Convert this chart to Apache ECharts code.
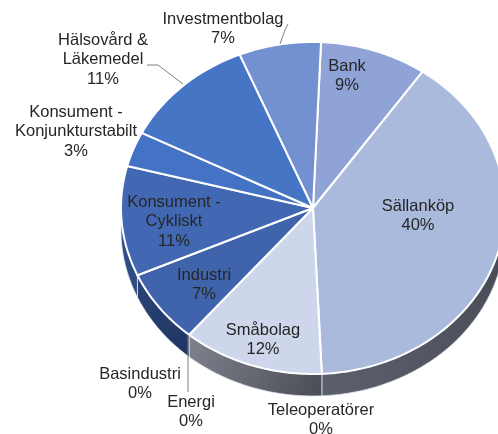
<!DOCTYPE html>
<html>
<head>
<meta charset="utf-8">
<style>html,body{margin:0;padding:0;background:#fff}#main{width:498px;height:434px}</style>
<script src="https://cdn.jsdelivr.net/npm/echarts@6/dist/echarts.min.js"></script>
</head>
<body>
<div id="main"></div>
<script>
// clockwise from just right of 12 o'clock
var categories = ['Bank', 'Sällanköp', 'Teleoperatörer', 'Småbolag', 'Energi', 'Basindustri', 'Industri',
  'Konsument -\nCykliskt', 'Konsument -\nKonjunkturstabilt', 'Hälsovård &\nLäkemedel', 'Investmentbolag'];
var values = [9.0, 39.6, 0, 11.9, 0, 0, 7.2, 10.7, 3.4, 11.3, 6.9];

var topColors = ['#8fa3d6', '#aabadd', '#aabadd', '#cdd6ea', '#cdd6ea', '#cdd6ea', '#3f64ab', '#4268b3', '#4472c4', '#4675c6', '#7391d1'];
var sideFrom = ['#50545f', '#5b5f6c', '#5b5f6c', '#7f828d', '#7f828d', '#7f828d', '#2a4478', '#33548f', '#33548f', '#33548f', '#33548f'];
var sideTo = ['#50545f', '#474a54', '#474a54', '#4b4d55', '#4b4d55', '#4b4d55', '#1f3461', '#2b4880', '#2b4880', '#2b4880', '#2b4880'];

// label centres, first line
var labelX = [347, 418, 321, 263, 191, 140, 204, 174, 76, 103, 223];
var labelY = [66, 206, 410, 330, 402, 374, 275, 202, 112, 40, 19];
var leaders = [
  [[280, 44], [285, 30], [288, 24]],
  [[183, 84], [158, 65], [147, 65]],
  [[188, 335], [188, 392]]
];

var cx = 313, cy = 208, rx = 192, ry = 166, depth = 22, startAngle = 2.4;

var total = values.reduce(function (a, b) { return a + b; }, 0);
var rows = [], acc = 0;
for (var i = 0; i < values.length; i++) {
  rows.push([i, values[i], acc]);
  acc += values[i];
}

function pt(t, dy) {
  var a = t * Math.PI / 180;
  return [cx + rx * Math.sin(a), cy - ry * Math.cos(a) + (dy || 0)];
}
function arc(from, to, dy) {
  var out = [];
  var n = Math.max(2, Math.ceil(Math.abs(to - from)));
  for (var k = 0; k <= n; k++) out.push(pt(from + (to - from) * k / n, dy));
  return out;
}
function angles(api) {
  var a0 = startAngle + api.value(2) / total * 360;
  return [a0, a0 + api.value(1) / total * 360];
}

function renderSide(params, api) {
  var idx = api.value(0), a = angles(api);
  var from = Math.max(a[0], 90), to = Math.min(a[1], 270);
  if (api.value(1) === 0 || to <= from) return null;
  var p0 = pt(to), p1 = pt(from);
  return {
    type: 'polygon',
    shape: { points: arc(from, to, 0).concat(arc(to, from, depth)) },
    style: {
      fill: {
        type: 'linear', global: true, x: p0[0], y: p0[1], x2: p1[0], y2: p1[1] + depth,
        colorStops: [{ offset: 0, color: sideFrom[idx] }, { offset: 1, color: sideTo[idx] }]
      },
      stroke: '#dfe3ee', lineWidth: 0.8
    }
  };
}

function renderTop(params, api) {
  var idx = api.value(0), a = angles(api);
  if (api.value(1) === 0) return null;
  return {
    type: 'polygon',
    shape: { points: [[cx, cy]].concat(arc(a[0], a[1], 0)) },
    style: { fill: topColors[idx], stroke: '#fff', lineWidth: 2, lineJoin: 'round' }
  };
}

function renderLabel(params, api) {
  var idx = api.value(0);
  return {
    type: 'text',
    x: labelX[idx],
    y: labelY[idx] - 9.5,
    style: {
      text: categories[idx] + '\n' + Math.round(api.value(1)) + '%',
      fill: '#262626',
      font: '16.5px "Liberation Sans", Arial, sans-serif',
      lineHeight: 19.5,
      align: 'center',
      verticalAlign: 'top'
    }
  };
}

function renderLeader(params, api) {
  return {
    type: 'polyline',
    shape: { points: leaders[params.dataIndex] },
    style: { fill: null, stroke: '#7f7f7f', lineWidth: 1 }
  };
}

var chart = echarts.init(document.getElementById('main'), null, { renderer: 'canvas' });
chart.setOption({
  animation: false,
  backgroundColor: '#fff',
  series: [
    { type: 'custom', coordinateSystem: 'none', renderItem: renderSide, data: rows, silent: true, z: 1 },
    { type: 'custom', coordinateSystem: 'none', renderItem: renderTop, data: rows, silent: true, z: 2 },
    { type: 'custom', coordinateSystem: 'none', renderItem: renderLeader, data: leaders.map(function (l, i) { return [i]; }), silent: true, z: 3 },
    { type: 'custom', coordinateSystem: 'none', renderItem: renderLabel, data: rows, silent: true, z: 4 }
  ]
});
</script>
</body>
</html>
